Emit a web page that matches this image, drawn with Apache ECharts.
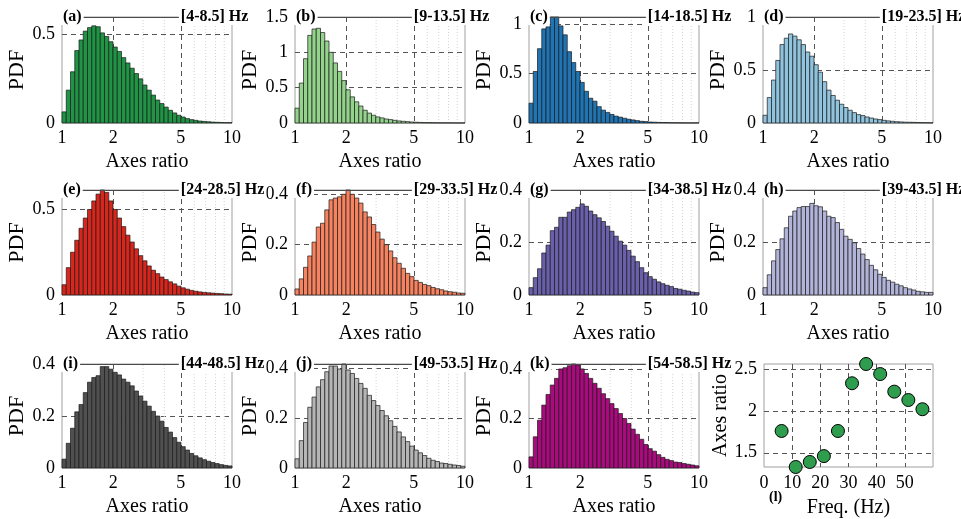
<!DOCTYPE html>
<html><head><meta charset="utf-8">
<script src="https://cdn.jsdelivr.net/npm/echarts@6/dist/echarts.min.js"></script>
<style>html,body{margin:0;padding:0;background:#fff}#c{width:961px;height:519px}</style>
</head><body><div id="c"></div><script>
// ---------- DATA ----------
// 40 log-spaced bins between axes ratio 1 and 10 (bin k spans 10^(k/40) .. 10^((k+1)/40))
const binsPerDecade = 40;
const hist_a = [0.063,0.186,0.29,0.41,0.47,0.52,0.54,0.55,0.545,0.51,0.49,0.46,0.43,0.405,0.37,0.34,0.31,0.28,0.25,0.215,0.186,0.158,0.13,0.11,0.09,0.072,0.057,0.044,0.034,0.025,0.019,0.015,0.011,0.009,0.007,0.005,0.004,0.003,0.002,0.002];
const hist_b = [0.21,0.565,0.91,1.24,1.33,1.34,1.28,1.16,1.0,0.85,0.73,0.6,0.47,0.37,0.3,0.24,0.18,0.14,0.11,0.086,0.072,0.057,0.048,0.038,0.029,0.024,0.019,0.014,0.011,0.008,0.006,0.005,0.004,0.003,0.002,0.002,0.002,0.001,0.001,0.001];
const hist_c = [0.2,0.52,0.75,0.95,0.97,1.07,1.07,0.98,0.89,0.72,0.61,0.52,0.41,0.32,0.25,0.22,0.165,0.13,0.107,0.086,0.069,0.059,0.048,0.038,0.031,0.024,0.017,0.014,0.01,0.008,0.006,0.005,0.004,0.003,0.002,0.002,0.001,0.001,0.001,0.001];
const hist_d = [0.073,0.24,0.405,0.59,0.74,0.8,0.84,0.82,0.785,0.74,0.67,0.63,0.55,0.48,0.39,0.31,0.26,0.215,0.177,0.146,0.12,0.098,0.079,0.07,0.057,0.047,0.038,0.032,0.025,0.02,0.016,0.012,0.01,0.008,0.007,0.006,0.005,0.004,0.003,0.002];
const hist_e = [0.06,0.16,0.25,0.32,0.39,0.45,0.5,0.55,0.59,0.614,0.6,0.55,0.5,0.45,0.4,0.35,0.31,0.27,0.23,0.2,0.17,0.145,0.125,0.105,0.09,0.077,0.065,0.052,0.042,0.034,0.027,0.022,0.018,0.015,0.013,0.011,0.009,0.008,0.006,0.005];
const hist_f = [0.024,0.064,0.11,0.155,0.21,0.27,0.285,0.338,0.378,0.385,0.39,0.4,0.417,0.4,0.385,0.365,0.33,0.31,0.28,0.25,0.222,0.2,0.175,0.148,0.126,0.106,0.086,0.073,0.058,0.05,0.042,0.037,0.03,0.025,0.021,0.016,0.013,0.011,0.008,0.007];
const hist_g = [0.028,0.066,0.1,0.16,0.19,0.245,0.258,0.296,0.296,0.316,0.325,0.334,0.347,0.338,0.32,0.306,0.294,0.28,0.262,0.243,0.224,0.205,0.19,0.17,0.148,0.127,0.104,0.085,0.07,0.06,0.05,0.043,0.037,0.032,0.025,0.022,0.018,0.015,0.011,0.009];
const hist_h = [0.028,0.077,0.13,0.173,0.214,0.256,0.3,0.32,0.333,0.337,0.337,0.349,0.34,0.336,0.32,0.3,0.295,0.276,0.25,0.224,0.212,0.199,0.177,0.156,0.135,0.113,0.096,0.079,0.067,0.056,0.049,0.041,0.035,0.028,0.023,0.019,0.014,0.012,0.01,0.01];
const hist_i = [0.034,0.095,0.153,0.216,0.244,0.29,0.33,0.348,0.355,0.39,0.39,0.38,0.368,0.358,0.342,0.33,0.316,0.296,0.277,0.257,0.238,0.218,0.2,0.18,0.156,0.138,0.117,0.099,0.082,0.069,0.056,0.047,0.039,0.032,0.026,0.021,0.017,0.013,0.01,0.008];
const hist_j = [0.037,0.11,0.183,0.244,0.285,0.326,0.355,0.387,0.41,0.41,0.398,0.418,0.394,0.38,0.36,0.34,0.32,0.292,0.271,0.251,0.231,0.21,0.19,0.167,0.145,0.125,0.106,0.088,0.072,0.061,0.05,0.039,0.031,0.026,0.02,0.018,0.015,0.012,0.01,0.007];
const hist_k = [0.045,0.126,0.193,0.254,0.297,0.335,0.362,0.4,0.405,0.413,0.42,0.416,0.4,0.382,0.362,0.342,0.322,0.3,0.28,0.26,0.24,0.22,0.2,0.18,0.157,0.136,0.116,0.095,0.078,0.068,0.054,0.043,0.035,0.03,0.024,0.022,0.018,0.015,0.012,0.009];
const histograms = [hist_a,hist_b,hist_c,hist_d,hist_e,hist_f,hist_g,hist_h,hist_i,hist_j,hist_k];
const panelTags = ['(a)','(b)','(c)','(d)','(e)','(f)','(g)','(h)','(i)','(j)','(k)'];
const bandLabels = ['[4-8.5] Hz','[9-13.5] Hz','[14-18.5] Hz','[19-23.5] Hz','[24-28.5] Hz','[29-33.5] Hz','[34-38.5] Hz','[39-43.5] Hz','[44-48.5] Hz','[49-53.5] Hz','[54-58.5] Hz'];
const yMaxes = [0.6,1.5,1.07,1,0.614,0.417,0.4,0.4,0.4,0.418,0.42];
const yTickSets = [[0,0.5],[0,0.5,1,1.5],[0,0.5,1],[0,0.5,1],[0,0.5],[0,0.2,0.4],[0,0.2,0.4],[0,0.2,0.4],[0,0.2,0.4],[0,0.2,0.4],[0,0.2,0.4]];
const xTickLabels = [1,2,5,10];
const xMajorGrid = [2,5];
const xMinorGrid = [3,4,6,7,8,9];
// panel (l)
const freqCenters = [6.25,11.25,16.25,21.25,26.25,31.25,36.25,41.25,46.25,51.25,56.25];
const meanRatio  = [1.76,1.33,1.39,1.46,1.76,2.33,2.56,2.44,2.23,2.13,2.02];
const freqTicks = [0,10,20,30,40,50];
const ratioTicks = [1.5,2,2.5];

// ---------- STYLE / LAYOUT ----------
const FONT = 'Liberation Serif';
const colors = ['#1f9445','#93d38b','#1f74b4','#8fc3de','#d9261c','#f6825f','#6a5fab','#b2b3d8','#505050','#b5b5b5','#aa0a7d'];
const colLeft = [62,295,529,763];
const rowTop = [17,190,364];
const rowH = [106,105,104];
const W = 170;

const grids=[], xAxes=[], yAxes=[], series=[], titles=[];
const lg = Math.log10;
const tagStyle = {fontFamily:FONT,fontWeight:'bold',fontSize:16,lineHeight:17,color:'#000'};

histograms.forEach((h,i)=>{
  const c=i%4, r=Math.floor(i/4);
  grids.push({left:colLeft[c],top:rowTop[r],width:W,height:rowH[r],show:true,borderColor:'#a0a0a0',borderWidth:1,containLabel:false});
  xAxes.push({gridIndex:i,type:'value',min:0,max:1,
    name:'Axes ratio',nameLocation:'middle',nameGap:29,nameTextStyle:{fontFamily:FONT,fontSize:20,color:'#000'},
    axisLine:{show:false},
    axisTick:{show:false,customValues:xMajorGrid.map(v=>lg(v))},
    axisLabel:{customValues:xTickLabels.map(v=>lg(v)),formatter:v=>String(Math.round(Math.pow(10,v))),fontFamily:FONT,fontSize:18,color:'#000',margin:6},
    splitLine:{show:true,lineStyle:{color:'#555',type:[5,4],width:1}}
  });
  const yt=yTickSets[i];
  yAxes.push({gridIndex:i,type:'value',min:0,max:yMaxes[i],
    name:'PDF',nameLocation:'middle',nameGap:29,nameTextStyle:{fontFamily:FONT,fontSize:22,color:'#000'},
    axisLine:{show:false},
    axisTick:{show:false,customValues:yt.filter(v=>v>0)},
    axisLabel:{customValues:yt,fontFamily:FONT,fontSize:18,color:'#000',margin:7},
    splitLine:{show:true,lineStyle:{color:'#555',type:[5,4],width:1}}
  });
  series.push({type:'custom',xAxisIndex:i,yAxisIndex:i,silent:true,
    data:xMinorGrid.map(v=>[lg(v),yMaxes[i]]),encode:{x:0,y:1},
    renderItem:(p,api)=>{const a=api.coord([api.value(0),0]),b=api.coord([api.value(0),api.value(1)]);
      return {type:'line',shape:{x1:a[0],y1:a[1],x2:b[0],y2:b[1]},style:{stroke:'#d4d4d4',lineWidth:1,lineDash:[1,2]}};}
  });
  const col=colors[i];
  series.push({type:'custom',xAxisIndex:i,yAxisIndex:i,silent:true,
    data:h.map((v,k)=>[k/binsPerDecade,(k+1)/binsPerDecade,v]),encode:{x:[0,1],y:2},
    renderItem:(p,api)=>{const a=api.coord([api.value(0),api.value(2)]),b=api.coord([api.value(1),0]);
      return {type:'rect',shape:{x:a[0],y:a[1],width:b[0]-a[0],height:b[1]-a[1]},style:{fill:col,stroke:'#1a1a1a',lineWidth:0.7}};}
  });
  // solid darker top frame line (axes box top edge)
  series.push({type:'custom',xAxisIndex:i,yAxisIndex:i,silent:true,z:3,
    data:[[0,1,yMaxes[i]]],encode:{x:[0,1],y:2},
    renderItem:(p,api)=>{const a=api.coord([api.value(0),api.value(2)]),b=api.coord([api.value(1),api.value(2)]);
      return {type:'line',shape:{x1:a[0],y1:Math.round(a[1])+0.5,x2:b[0],y2:Math.round(a[1])+0.5},style:{stroke:'#4a4a4a',lineWidth:1}};}
  });
  titles.push({text:panelTags[i],left:colLeft[c]-1,top:rowTop[r]-9,padding:[0,2],backgroundColor:'#fff',textStyle:tagStyle});
  titles.push({text:bandLabels[i],left:colLeft[c]+W*lg(5)-2,top:rowTop[r]-9,padding:[0,2],backgroundColor:'#fff',textStyle:tagStyle});
});

// panel (l)
const li=11;
grids.push({left:764,top:364,width:169,height:104,show:true,borderColor:'#a0a0a0',borderWidth:1});
xAxes.push({gridIndex:li,type:'value',min:0,max:60,
  name:'Freq. (Hz)',nameLocation:'middle',nameGap:31,nameTextStyle:{fontFamily:FONT,fontSize:20,color:'#000'},
  axisLine:{show:false},axisTick:{show:false,customValues:[10,20,30,40,50]},
  axisLabel:{customValues:freqTicks,fontFamily:FONT,fontSize:18,color:'#000',margin:7},
  splitLine:{show:true,lineStyle:{color:'#555',type:[5,4],width:1}}});
yAxes.push({gridIndex:li,type:'value',min:1.33,max:2.56,
  name:'Axes ratio',nameLocation:'middle',nameGap:21,nameTextStyle:{fontFamily:FONT,fontSize:20,color:'#000'},
  axisLine:{show:false},axisTick:{show:false,customValues:ratioTicks},
  axisLabel:{customValues:ratioTicks,fontFamily:FONT,fontSize:18,color:'#000',margin:7},
  splitLine:{show:true,lineStyle:{color:'#555',type:[5,4],width:1}}});
series.push({type:'scatter',xAxisIndex:li,yAxisIndex:li,clip:false,symbolSize:13,silent:true,
  data:freqCenters.map((f,k)=>[f,meanRatio[k]]),
  itemStyle:{color:'#2e9d4e',borderColor:'#000',borderWidth:1,opacity:1},z:5});
titles.push({text:'(l)',left:769,top:490,padding:0,textStyle:{fontFamily:FONT,fontWeight:'bold',fontSize:14,color:'#000'}});

const chart = echarts.init(document.getElementById('c'),null,{renderer:'canvas'});
chart.setOption({animation:false,backgroundColor:'#fff',title:titles,grid:grids,xAxis:xAxes,yAxis:yAxes,series:series});
</script></body></html>
